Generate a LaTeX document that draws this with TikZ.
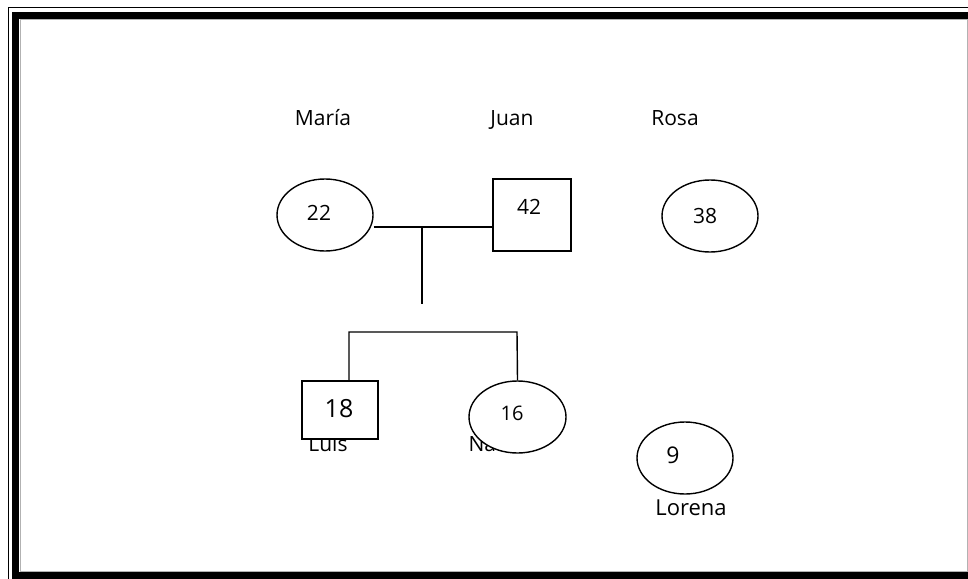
\documentclass[tikz,border=0pt]{standalone}
\usepackage{fontspec}
\setmainfont{Open Sans}
\usetikzlibrary{shapes.geometric}
\begin{document}
\begin{tikzpicture}[x=1pt,y=-1pt,
  lbl/.style={font=\fontsize{21}{24}\selectfont, inner sep=0pt, anchor=base},
  num/.style={font=\fontsize{21}{24}\selectfont, inner sep=0pt},
  fem/.style={ellipse, draw, line width=1.4pt, fill=white, minimum width=96pt, minimum height=72pt, inner sep=0pt},
  mal/.style={rectangle, draw, line width=1.4pt, fill=white, inner sep=0pt},
  link/.style={line width=1.4pt}]
\useasboundingbox (0,0) rectangle (968,578);
\fill[white] (0,0) rectangle (968,578);
% frame
\draw[line width=1pt] (8,580) -- (8,7.5) -- (970,7.5);
\draw[line width=7pt] (15.5,580) -- (15.5,15.5) -- (970,15.5);
\fill[black] (12,571.5) rectangle (970,580);
\draw[gray!60, line width=1pt] (20,571) -- (20,19.5) -- (967,19.5) -- (967,571) -- cycle;
% labels under shapes
\node[lbl] (tmaria) at (323,125) {María};
\node[lbl] (tjuan) at (512,125) {Juan};
\node[lbl] (trosa) at (675,125) {Rosa};
\node[lbl] (tluis) at (328,451) {Luis};
\node[lbl] (tnat) at (503,451) {Natalia};
\node[lbl, font=\fontsize{22}{25}\selectfont] (tlor) at (691,515) {Lorena};
% shapes
\node[fem] (maria) at (325,215) {};
\node[num] at (319,213) {22};
\node[mal, minimum width=78pt, minimum height=72pt] (juan) at (532,215) {};
\node[num] at (529,207) {42};
\node[fem] (rosa) at (710,216) {};
\node[num] at (705,216) {38};
\coordinate (m) at (422,227);
\coordinate (d) at (422,304);
\draw[link] (maria.east |- m) -- (juan.west |- m);
\draw[link] (m) -- (d);
\node[mal, minimum width=76pt, minimum height=58pt] (luis) at (340,410) {};
\node[font=\fontsize{25}{28}\selectfont, inner sep=0pt] at (339,409) {18};
\node[fem, minimum width=97pt] (nat) at (517.5,417) {};
\node[font=\fontsize{20}{23}\selectfont, inner sep=0pt] at (512,413) {16};
\coordinate (sl) at (349,332);
\coordinate (sr) at (517,332);
\draw[link] (luis.north -| sl) -- (sl) -- (sr) -- (nat.north);
\node[fem] (lor) at (685,458) {};
\node[font=\fontsize{23}{26}\selectfont, inner sep=0pt] at (673,455) {9};
\end{tikzpicture}
\end{document}
